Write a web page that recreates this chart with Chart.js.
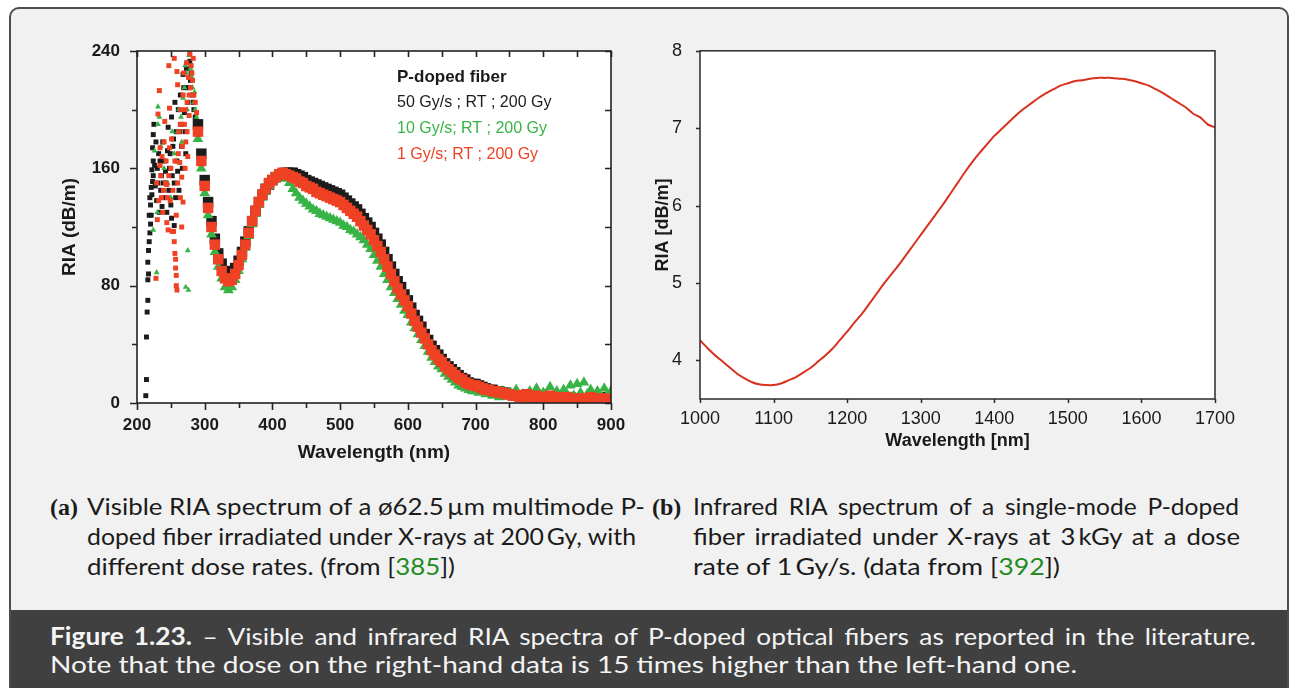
<!DOCTYPE html>
<html>
<head>
<meta charset="utf-8">
<script src="https://cdn.jsdelivr.net/npm/chart.js@4.4.1/dist/chart.umd.min.js"></script>
<style>
  html, body { margin: 0; padding: 0; background: #fff; }
  body { width: 1289px; height: 688px; position: relative; overflow: hidden; }
  #box { position: absolute; left: 9px; top: 7px; width: 1276px; height: 720px; border: 2px solid #4d4d4d;
         border-radius: 10px; background: #f1f1f1; overflow: hidden; }
  #foot { position: absolute; left: 0; right: 0; top: 601px; height: 200px; background: #404040; }
  canvas { position: absolute; }
  #vis { left: 40px; top: 30px; }
  #ir { left: 640px; top: 30px; }
  .ln { position: absolute; white-space: nowrap; font-family: Lato, "Open Sans", sans-serif; font-size: 24px;
        line-height: 1; color: #1b1b1b; transform-origin: 0 0; }
  .lb { font-family: "Liberation Serif", "DejaVu Serif", serif; font-weight: bold; }
  .ref { color: #238b23; }
  .ft { color: #f4f4f4; }
</style>
</head>
<body>
<div id="box"><div id="foot"></div></div>
<canvas id="vis" width="600" height="440"></canvas>
<canvas id="ir" width="620" height="440"></canvas>

<div class="ln lb" style="left:50px;top:495px">(a)</div>
<div class="ln" data-w="558" style="left:87px;top:494px">Visible RIA spectrum of a ø62.5&#8201;µm multimode P-</div>
<div class="ln" data-w="549" style="left:87px;top:524px">doped fiber irradiated under X-rays at 200&#8201;Gy, with</div>
<div class="ln" data-w="368" style="left:87px;top:554px">different dose rates. (from [<span class="ref">385</span>])</div>

<div class="ln lb" style="left:652px;top:495px">(b)</div>
<div class="ln" data-w="546" data-j="1" style="left:693px;top:494px">Infrared RIA spectrum of a single-mode P-doped</div>
<div class="ln" data-w="547" data-j="1" style="left:693px;top:524px">fiber irradiated under X-rays at 3&#8201;kGy at a dose</div>
<div class="ln" data-w="367" style="left:693px;top:554px">rate of 1&#8201;Gy/s. (data from [<span class="ref">392</span>])</div>

<div class="ln ft" data-w="1206" data-j="1" style="left:50px;top:624px"><b>Figure 1.23.</b> – Visible and infrared RIA spectra of P-doped optical fibers as reported in the literature.</div>
<div class="ln ft" data-w="1027" style="left:50px;top:652px">Note that the dose on the right-hand data is 15 times higher than the left-hand one.</div>

<script>
// ---- left panel: visible RIA, 200 Gy, three dose rates ----
const legendTitle = "P-doped fiber";
const seriesLabels = ["50 Gy/s ; RT ; 200 Gy", "10 Gy/s; RT ; 200 Gy", "1 Gy/s; RT ; 200 Gy"];
const seriesColors = ["#1c1c1c", "#38b446", "#ef4123"];

// dense part of the spectra, 290..900 nm every 5 nm
const bandNm = Array.from({ length: 123 }, (_, i) => 290 + 5 * i);

const black50 = [
  190, 170, 152, 137, 124, 112, 102, 95, 90, 89, 89, 92,
  97, 103, 110, 117, 124, 131, 137, 142, 146, 149,
  152, 154, 155, 156, 157, 157, 157, 156, 155, 154,
  152, 151, 150, 149, 148, 147, 146, 145, 144, 143,
  142, 140, 138, 136, 134, 132, 129, 126, 123, 120,
  116, 112, 108, 103, 98, 93, 88, 83, 79, 74,
  70, 65, 60, 56, 52, 47, 43, 39, 36, 33,
  30, 27, 25, 23, 21, 19, 17, 16, 14, 13,
  13, 12, 11, 10, 9, 9, 8, 8, 7, 7,
  6, 6, 5, 5, 5, 4, 5, 4, 4, 4,
  4, 3, 4, 3, 4, 3, 3, 3, 4, 3,
  3, 2, 3, 3, 2, 3, 3, 2, 3, 4,
  3,
];
const green10 = [
  180, 160, 143, 128, 115, 103, 93, 85, 79, 77, 79, 84,
  90, 98, 106, 114, 122, 129, 135, 140, 144, 148,
  151, 153, 155, 155, 153, 150, 146, 143, 140, 138,
  136, 134, 132, 131, 129, 128, 127, 126, 125, 124,
  123, 121, 120, 118, 117, 115, 113, 111, 108, 105,
  101, 97, 93, 88, 84, 79, 75, 71, 67, 63,
  60, 55, 51, 47, 43, 39, 35, 31, 28, 25,
  23, 20, 18, 16, 14, 12, 11, 10, 9, 8,
  8, 7, 9, 6, 8, 5, 7, 4, 8, 5,
  7, 4, 9, 5, 6, 3, 8, 5, 10, 4,
  7, 6, 11, 5, 8, 4, 9, 6, 12, 5,
  13, 7, 14, 6, 9, 5, 8, 4, 10, 6,
  8,
];
const red1 = [
  185, 165, 148, 133, 120, 108, 98, 90, 85, 83, 84, 88,
  94, 101, 108, 116, 124, 131, 137, 142, 146, 150,
  152, 154, 156, 157, 156, 155, 154, 153, 151, 150,
  148, 147, 146, 144, 143, 142, 141, 140, 139, 138,
  137, 135, 133, 131, 129, 127, 124, 121, 118, 115,
  111, 107, 103, 98, 93, 88, 83, 78, 74, 70,
  66, 61, 56, 52, 48, 44, 40, 36, 33, 30,
  28, 25, 23, 21, 19, 17, 16, 14, 13, 12,
  12, 11, 10, 9, 9, 8, 8, 7, 7, 6,
  6, 5, 5, 4, 5, 6, 4, 4, 5, 4,
  3, 4, 5, 3, 4, 3, 3, 4, 3, 2,
  3, 3, 2, 3, 4, 3, 2, 3, 2, 3,
  2,
];

// scattered points below 290 nm (noisy UV end)
const blackScatNm = [213, 214, 214, 215, 216, 216, 217, 216, 217, 218, 219, 220, 221, 220, 222, 223, 222, 224, 223, 224,
  225, 227, 229, 230, 232, 233, 235, 236, 238, 240, 241, 243, 245, 246, 248, 250, 251, 251, 253, 255,
  255, 256, 258, 259, 261, 262, 264, 265, 266, 268, 269, 270, 272, 273, 275, 276, 277, 278, 280, 282, 284, 286, 288,
  218, 219, 221, 224, 226, 228, 231, 234, 237, 239, 242, 244, 247, 249, 252, 254, 257, 260, 263, 267, 271, 274, 279, 283];
const blackScatVal = [5, 16, 45, 62, 70, 84, 88, 96, 104, 110, 116, 122, 128, 135, 142, 151, 159, 165, 174, 183,
  190, 148, 138, 160, 170, 130, 145, 155, 178, 165, 140, 150, 172, 188, 160, 135, 126, 195, 175, 121,
  150, 205, 185, 165, 200, 145, 210, 190, 175, 224, 215, 198, 170, 228, 205, 232, 215, 233, 225, 210, 200, 195, 192,
  128, 140, 147, 155, 162, 178, 150, 165, 134, 150, 158, 130, 145, 170, 155, 180, 140, 158, 185, 160, 185, 215, 220, 205];
const greenScatNm = [224, 226, 229, 230, 231, 231, 233, 240, 250, 255, 260, 265, 268, 270, 272, 273, 274, 275, 276, 277,
  278, 279, 280, 282, 284, 286, 288, 235, 245, 252, 258, 262, 266, 271, 281, 285];
const greenScatVal = [118, 172, 89, 130, 190, 202, 195, 160, 140, 170, 185, 195, 208, 215, 79, 225, 200, 104, 77, 237,
  239, 228, 210, 215, 205, 200, 195, 175, 150, 185, 165, 200, 178, 230, 222, 212];
const redScatNm = [228, 230, 231, 233, 234, 234, 236, 238, 240, 242, 244, 244, 246, 247, 248, 248, 249, 250, 252, 254,
  255, 255, 256, 257, 257, 258, 258, 259, 259, 260, 260, 262, 263, 264, 265, 266, 267, 268, 269, 270,
  271, 272, 273, 274, 275, 276, 277, 278, 279, 280, 282, 284, 286, 288,
  229, 232, 235, 237, 239, 241, 243, 245, 247, 251, 253, 256, 258, 261, 264, 266, 268, 271, 274, 277, 281, 283];
const redScatVal = [85, 125, 197, 213, 174, 162, 140, 130, 178, 150, 149, 123, 118, 230, 201, 174, 138, 160, 117, 117,
  110, 235, 102, 98, 92, 87, 80, 226, 77, 217, 150, 185, 164, 140, 200, 154, 175, 137, 225, 190,
  160, 178, 232, 205, 168, 222, 196, 238, 215, 230, 220, 210, 205, 198,
  150, 138, 155, 168, 145, 192, 165, 140, 155, 180, 145, 165, 128, 170, 190, 120, 210, 200, 185, 210, 225, 235];

// ---- right panel: infrared RIA, 3 kGy at 1 Gy/s ----
const irNm = Array.from({ length: 71 }, (_, i) => 1000 + 10 * i);
const irRia = [
  4.26, 4.16, 4.07, 3.99, 3.91, 3.83, 3.77, 3.72, 3.69, 3.68,
  3.68, 3.70, 3.74, 3.78, 3.84, 3.90, 3.98, 4.06, 4.15, 4.26,
  4.37, 4.49, 4.60, 4.73, 4.86, 4.99, 5.11, 5.23, 5.36, 5.49,
  5.62, 5.75, 5.88, 6.01, 6.15, 6.29, 6.43, 6.56, 6.68, 6.79,
  6.90, 6.99, 7.08, 7.17, 7.25, 7.32, 7.39, 7.45, 7.50, 7.55,
  7.58, 7.61, 7.62, 7.64, 7.65, 7.65, 7.65, 7.64, 7.63, 7.61,
  7.58, 7.55, 7.50, 7.45, 7.39, 7.33, 7.27, 7.19, 7.14, 7.05,
  7.01,
];

function pairs(xs, ys) {
  return xs.map((x, i) => ({ x: x, y: ys[i] }));
}

Chart.defaults.font.family = '"Liberation Sans", Arial, sans-serif';
Chart.defaults.color = "#1a1a1a";

// white plot area, full frame and tick marks drawn from the chart's scales
const frame = {
  id: "frame",
  beforeDatasetsDraw(chart) {
    const a = chart.chartArea;
    const ctx = chart.ctx;
    ctx.save();
    ctx.fillStyle = "#fff";
    ctx.fillRect(a.left, a.top, a.right - a.left, a.bottom - a.top);
    ctx.restore();
  },
  afterDraw(chart, args, opts) {
    const { ctx, chartArea: a } = chart;
    const x = chart.scales.x;
    const y = chart.scales.y;
    ctx.save();
    ctx.strokeStyle = opts.color;
    ctx.lineWidth = opts.lineWidth;
    ctx.strokeRect(a.left, a.top, a.right - a.left, a.bottom - a.top);
    ctx.beginPath();
    x.ticks.forEach((t) => {
      const px = Math.round(x.getPixelForValue(t.value)) + 0.5;
      const len = t.label !== "" ? opts.major : opts.minor;
      ctx.moveTo(px, a.bottom);
      ctx.lineTo(px, a.bottom + len);
      if (opts.mirror) {
        ctx.moveTo(px, a.top);
        ctx.lineTo(px, a.top + opts.inner);
      }
    });
    y.ticks.forEach((t) => {
      const py = Math.round(y.getPixelForValue(t.value)) + 0.5;
      const len = t.label !== "" ? opts.major : opts.minor;
      ctx.moveTo(a.left - len, py);
      ctx.lineTo(a.left, py);
      if (opts.mirror) {
        ctx.moveTo(a.right - opts.inner, py);
        ctx.lineTo(a.right, py);
      }
    });
    ctx.stroke();
    ctx.restore();
  },
};

// coloured text legend inside the left plot
const textLegend = {
  id: "textLegend",
  afterDraw(chart, args, opts) {
    if (!opts.lines) return;
    const { ctx, chartArea: a } = chart;
    ctx.save();
    ctx.textBaseline = "middle";
    opts.lines.forEach((l, i) => {
      ctx.font = (l.bold ? "bold 17px" : "16px") + ' "Liberation Sans", Arial, sans-serif';
      ctx.fillStyle = l.color;
      ctx.fillText(l.text, a.left + 260, a.top + 26 + 26 * i);
    });
    ctx.restore();
  },
};

const axisFontL = { size: 17, weight: "bold" };

new Chart(document.getElementById("vis"), {
  type: "scatter",
  data: {
    datasets: [
      {
        label: seriesLabels[0],
        data: pairs(blackScatNm, blackScatVal).concat(pairs(bandNm, black50)),
        backgroundColor: seriesColors[0],
        pointStyle: "rect",
        order: 2,
      },
      {
        label: seriesLabels[1],
        data: pairs(greenScatNm, greenScatVal).concat(pairs(bandNm, green10)),
        backgroundColor: seriesColors[1],
        pointStyle: "triangle",
        order: 1,
      },
      {
        label: seriesLabels[2],
        data: pairs(redScatNm, redScatVal).concat(pairs(bandNm, red1)),
        backgroundColor: seriesColors[2],
        pointStyle: "rect",
        order: 0,
      },
    ],
  },
  options: {
    responsive: false,
    animation: false,
    devicePixelRatio: 1,
    layout: { padding: { left: 0, right: 29, top: 21, bottom: 0 } },
    elements: {
      point: {
        borderWidth: 0,
        radius: (ctx) => {
          const big = ctx.raw && ctx.raw.x >= 290;
          const tri = ctx.dataset.pointStyle === "triangle";
          return tri ? (big ? 6.2 : 3.4) : (big ? 7.4 : 3.5);
        },
      },
    },
    plugins: {
      legend: { display: false },
      tooltip: { enabled: false },
      frame: { color: "#222", lineWidth: 1.6, major: 7, minor: 5, inner: 6, mirror: true },
      textLegend: {
        lines: [
          { text: legendTitle, color: "#1a1a1a", bold: true },
          { text: seriesLabels[0], color: seriesColors[0] },
          { text: seriesLabels[1], color: seriesColors[1] },
          { text: seriesLabels[2], color: seriesColors[2] },
        ],
      },
    },
    scales: {
      x: {
        type: "linear",
        min: 200,
        max: 900,
        grid: { display: false },
        border: { display: false },
        ticks: {
          stepSize: 50,
          autoSkip: false,
          maxRotation: 0,
          padding: 4,
          font: axisFontL,
          callback: (v) => (v % 100 === 0 ? String(v) : ""),
        },
        title: { display: true, text: "Wavelength (nm)", font: { size: 19, weight: "bold" }, padding: { top: 0, bottom: 5.6 } },
        afterFit: (s) => { s.height = 67; },
      },
      y: {
        min: 0,
        max: 240,
        grid: { display: false },
        border: { display: false },
        ticks: {
          stepSize: 40,
          autoSkip: false,
          padding: 9,
          font: axisFontL,
          callback: (v) => (v % 80 === 0 ? String(v) : ""),
        },
        title: { display: true, text: "RIA (dB/m)", font: { size: 19, weight: "bold" }, padding: { top: 18.6, bottom: 0 } },
        afterFit: (s) => { s.width = 97; },
      },
    },
  },
  plugins: [frame, textLegend],
});

new Chart(document.getElementById("ir"), {
  type: "line",
  data: {
    datasets: [
      {
        label: "1 Gy/s ; 3 kGy",
        data: pairs(irNm, irRia),
        borderColor: "#d9311f",
        borderWidth: 2,
        pointRadius: 0,
        tension: 0.2,
      },
    ],
  },
  options: {
    responsive: false,
    animation: false,
    devicePixelRatio: 1,
    layout: { padding: { left: 0, right: 45, top: 20, bottom: 0 } },
    plugins: {
      legend: { display: false },
      tooltip: { enabled: false },
      frame: { color: "#2a2a2a", lineWidth: 1.5, major: 4, minor: 4, inner: 0, mirror: false },
    },
    scales: {
      x: {
        type: "linear",
        min: 1000,
        max: 1700,
        grid: { display: false },
        border: { display: false },
        ticks: { stepSize: 100, maxRotation: 0, padding: 1, font: { size: 18 }, callback: (v) => String(v) },
        title: { display: true, text: "Wavelength [nm]", font: { size: 18, weight: "bold" }, padding: { top: 0, bottom: 18.5 } },
        afterFit: (s) => { s.height = 71; },
      },
      y: {
        min: 3.5,
        max: 8,
        grid: { display: false },
        border: { display: false },
        ticks: { stepSize: 1, padding: 10, font: { size: 18 }, callback: (v) => String(v) },
        afterBuildTicks: (s) => { s.ticks = s.ticks.filter((t) => Number.isInteger(t.value)); },
        title: { display: true, text: "RIA [dB/m]", font: { size: 18, weight: "bold" }, padding: { top: 12, bottom: 0 } },
        afterFit: (s) => { s.width = 60; },
      },
    },
  },
  plugins: [frame],
});

// stretch or squeeze caption lines to the widths of the typeset original
document.querySelectorAll(".ln[data-w]").forEach((el) => {
  const target = +el.dataset.w;
  const natural = el.getBoundingClientRect().width;
  if (el.dataset.j) {
    const scale = (target * 0.95) / natural;
    const gaps = (el.textContent.match(/ /g) || []).length;
    el.style.transform = "scaleX(" + scale + ")";
    el.style.wordSpacing = (target / scale - natural) / gaps + "px";
  } else {
    el.style.transform = "scaleX(" + target / natural + ")";
  }
});
</script>
</body>
</html>
